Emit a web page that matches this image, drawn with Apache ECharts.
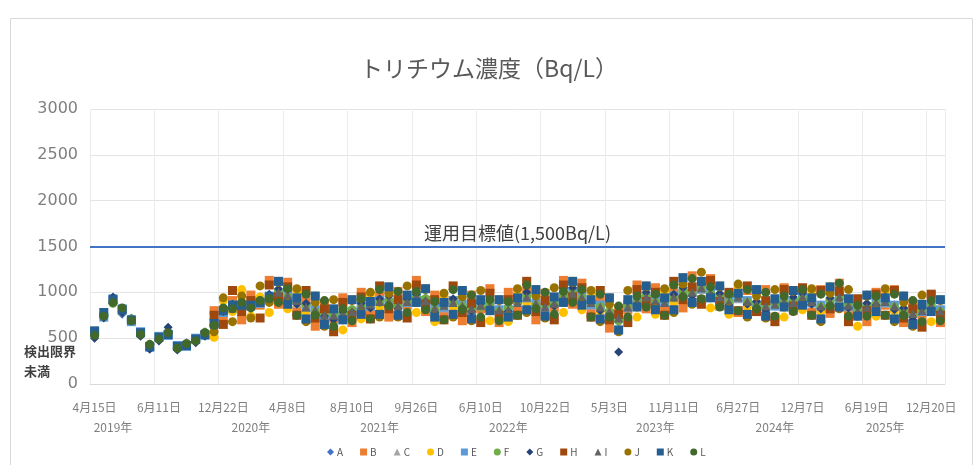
<!DOCTYPE html>
<html><head><meta charset="utf-8">
<script src="https://cdn.jsdelivr.net/npm/echarts@6/dist/echarts.min.js"></script>
<style>html,body{margin:0;padding:0;background:#fff}#c{width:978px;height:465px}</style>
</head><body><div id="c"></div>
<script>
const tickLabels = ["4月15日","6月11日","12月22日","4月8日","8月10日","9月26日","6月10日","10月22日","5月3日","11月11日","6月27日","12月7日","6月19日","12月20日"];
const yearLabels = ["2019年","2020年","2021年","2022年","2023年","2024年","2025年"];
const yearPos = [2,17,31,45,61,74,86];
const seriesNames = ["A","B","C","D","E","F","G","H","I","J","K","L"];
const colors = ["#4472C4","#ED7D31","#A5A5A5","#FFC000","#5B9BD5","#70AD47","#264478","#9E480E","#636363","#997300","#255E91","#43682B"];
const N = 93;
const _ = null;
const s1 = [520,770,880,760,720,530,440,480,570,380,450,460,570,630,820,830,890,820,920,930,1020,940,880,870,780,790,720,780,820,830,880,870,930,840,920,930,940,800,870,880,840,840,830,880,780,850,880,970,850,870,860,970,980,930,900,820,800,680,870,880,970,880,920,930,1020,980,1070,980,970,880,970,880,890,830,880,880,920,930,920,830,920,930,880,780,870,860,920,830,820,740,820,830,780];
const s2 = [_,_,_,_,_,_,_,_,_,_,_,_,_,800,700,910,700,970,860,1130,870,1110,800,910,630,880,710,940,670,1000,760,960,730,1010,860,1130,790,970,750,910,690,970,820,1040,670,1000,800,1010,700,990,840,1130,870,1100,780,910,610,820,810,1080,820,1050,800,1010,830,1180,920,1150,850,960,780,1020,830,1030,730,1050,800,1010,780,1030,770,1100,760,860,680,1000,860,1030,670,880,720,970,670];
const s3 = [_,_,_,_,_,_,_,_,_,_,_,_,_,_,780,870,850,880,930,970,990,930,880,830,820,740,770,780,830,870,850,920,880,880,910,970,900,840,830,920,840,800,870,840,820,800,920,930,890,830,900,930,980,930,860,870,800,720,830,920,930,880,920,930,980,1030,1030,980,930,920,930,880,850,870,870,920,880,930,880,870,880,930,840,820,830,900,880,870,780,740,820,830,820];
const s4 = [_,_,_,_,_,_,_,_,_,_,_,_,_,510,910,790,1030,740,950,780,1120,820,1010,790,960,650,800,590,920,710,970,840,1060,750,950,780,1040,680,960,840,1020,710,900,690,920,680,1010,890,1030,740,930,780,1120,810,990,790,940,590,900,730,1070,760,1010,890,1160,890,1100,830,1070,760,1060,840,1030,740,910,730,1020,810,1010,790,1060,840,910,630,970,740,1010,790,960,650,850,680,920];
const s5 = [560,730,930,820,680,570,400,520,530,420,410,500,530,670,780,860,850,870,880,960,980,970,920,840,810,750,770,740,790,860,850,910,890,870,890,960,910,830,840,910,870,810,860,850,810,810,910,940,880,840,890,940,1010,960,870,860,770,720,840,910,940,910,890,960,990,1010,1040,1010,940,910,940,910,860,860,850,910,890,960,890,860,890,960,850,810,840,890,890,860,790,770,790,860,810];
const s6 = [540,760,880,790,710,540,430,490,560,390,440,470,560,640,810,840,880,840,910,940,1010,950,890,860,790,770,740,770,810,840,870,890,910,850,910,940,930,810,860,890,850,830,840,870,790,830,890,960,860,860,870,960,990,940,890,840,790,690,860,890,960,890,910,940,1010,990,1060,990,960,890,960,890,880,840,870,890,910,940,910,840,910,940,870,790,860,870,910,840,810,750,810,840,790];
const s7 = [500,720,950,780,690,520,380,470,620,370,420,450,520,610,790,870,900,830,890,980,1040,930,870,880,770,740,700,790,780,880,830,930,960,820,930,980,900,780,880,930,830,790,880,830,770,790,930,1000,830,880,850,1000,1050,910,910,800,760,350,900,870,1000,870,930,980,1050,960,1100,970,990,860,990,870,900,800,900,860,950,990,870,820,940,990,830,760,880,860,950,810,830,700,830,820,770];
const s8 = [_,_,_,_,_,_,_,_,_,_,_,_,_,750,650,1020,790,910,720,1080,950,1060,750,1020,720,820,570,890,750,950,710,1070,820,920,720,1080,870,920,700,1070,780,880,670,990,750,920,750,1120,790,910,700,1080,950,1050,730,1020,700,760,670,1030,900,1000,750,1120,920,1060,870,1130,900,1000,800,1070,790,910,680,1030,850,1050,750,1020,820,1010,680,930,800,980,750,1020,720,820,620,980,750];
const s9 = [_,_,_,_,_,_,_,_,_,_,_,_,_,_,810,830,860,850,890,960,1000,970,910,840,810,750,750,770,790,860,870,900,900,850,900,960,910,830,860,890,850,820,860,850,810,810,890,950,880,840,880,950,990,950,890,840,790,720,840,900,950,900,890,950,990,1000,1050,990,950,890,950,900,870,850,870,900,890,950,900,850,890,950,860,800,840,890,900,850,790,770,800,860,800];
const s10 = [_,_,_,_,_,_,_,_,_,_,_,_,_,570,940,680,960,720,1070,890,1110,880,1040,680,890,630,920,700,910,770,1000,730,990,730,1070,890,1030,740,990,730,950,690,1020,800,910,740,1040,780,960,720,1050,890,1110,870,1020,680,870,570,1020,840,1060,820,1040,780,1090,870,1220,940,1060,820,1090,730,960,720,1030,840,1010,870,1040,680,990,820,1030,740,960,800,1040,680,890,630,970,790,910];
const s11 = [580,780,920,810,700,560,410,510,540,410,420,490,540,660,800,860,860,860,890,950,1120,870,940,710,960,650,820,700,920,760,900,760,1060,750,970,890,1040,730,890,760,1020,710,920,800,920,730,940,810,1030,740,950,890,1120,860,920,710,940,590,920,840,1070,810,940,810,1160,890,1120,940,1070,810,990,760,1030,740,930,840,1020,860,940,710,1060,840,930,740,970,790,940,710,960,650,870,790,920];
const s12 = [530,740,890,830,690,540,430,490,560,390,440,470,560,640,830,820,890,830,910,930,890,1040,750,980,750,910,630,820,690,930,710,1030,850,1010,780,1010,810,900,700,1030,810,970,730,920,690,900,750,1080,820,1000,760,1010,890,1030,730,980,730,850,730,960,840,980,750,1080,950,1150,930,1060,840,980,800,1030,820,1000,740,960,790,1030,750,980,850,1100,740,860,740,960,750,980,750,910,680,910,690];
const targetValue = 1500;
const allSeries = [s1,s2,s3,s4,s5,s6,s7,s8,s9,s10,s11,s12];

const cats = Array.from({length:N},(v,i)=>String(i));
const symbols = ['diamond','rect','triangle','circle','rect','circle','diamond','rect','triangle','circle','rect','circle'];
const FONT = '"Noto Sans CJK JP", "Noto Sans", sans-serif';

const chart = echarts.init(document.getElementById('c'), null, {renderer:'canvas'});
const series = allSeries.map((d,k)=>({
  name: seriesNames[k], type:'scatter', xAxisIndex:0, yAxisIndex:0,
  data:d, symbol:symbols[k], symbolSize:9,
  itemStyle:{color:colors[k], opacity:1},
  z: 3+k
}));
series[0].markLine = {
  silent:true, symbol:'none', animation:false,
  lineStyle:{color:'#4472C4', width:2, type:'solid'},
  label:{position:'insideMiddleTop', formatter:'運用目標値(1,500Bq/L)', fontSize:18, color:'#404040', fontFamily:FONT, distance:4},
  data:[{yAxis:targetValue}]
};
chart.setOption({
  animation:false,
  backgroundColor:'#fff',
  title:{text:'トリチウム濃度（Bq/L）', left:'center', top:52, textStyle:{fontSize:23, fontWeight:'normal', color:'#595959', fontFamily:FONT}},
  grid:{left:90, right:33, top:109, bottom:81, containLabel:false},
  legend:{bottom:3, left:322, itemWidth:7, itemHeight:7, itemGap:17, data:seriesNames,
    textStyle:{fontSize:10, color:'#595959', fontFamily:FONT, padding:[0,0,0,-2]}},
  xAxis:[{
    type:'category', data:cats, boundaryGap:true, position:'bottom',
    axisLine:{lineStyle:{color:'#D9D9D9'}}, axisTick:{show:false},
    axisLabel:{interval:(i)=>i%7===0, formatter:(v,i)=>tickLabels[i/7]||'', fontSize:12, color:'#7f7f7f', margin:17, fontFamily:FONT},
    splitLine:{show:true, interval:(i)=>i%7===0, lineStyle:{color:'#ECECEC'}}
  },{
    type:'category', data:cats, boundaryGap:true, position:'bottom',
    axisLine:{show:false}, axisTick:{show:false}, splitLine:{show:false},
    axisLabel:{interval:0, formatter:(v,i)=>{const p=yearPos.indexOf(i);return p>=0?yearLabels[p]:'';}, fontSize:12, color:'#7f7f7f', margin:37, fontFamily:FONT}
  }],
  yAxis:{type:'value', min:0, max:3000, interval:500,
    axisLine:{show:false}, axisTick:{show:false},
    axisLabel:{fontSize:16, color:'#7f7f7f', margin:12, fontFamily:'"DejaVu Sans", sans-serif', formatter:(v)=>String(v)},
    splitLine:{lineStyle:{color:'#E3E3E3'}}},
  graphic:[
    {type:'rect', shape:{x:10.5,y:18.5,width:962,height:450}, style:{fill:'none', stroke:'#D9D9D9', lineWidth:1}, silent:true},
    {type:'text', left:24, top:345, style:{text:'検出限界', fontSize:13, fontWeight:'bold', fill:'#404040', fontFamily:FONT}},
    {type:'text', left:24, top:365, style:{text:'未満', fontSize:13, fontWeight:'bold', fill:'#404040', fontFamily:FONT}}
  ],
  series:series
});
</script></body></html>
